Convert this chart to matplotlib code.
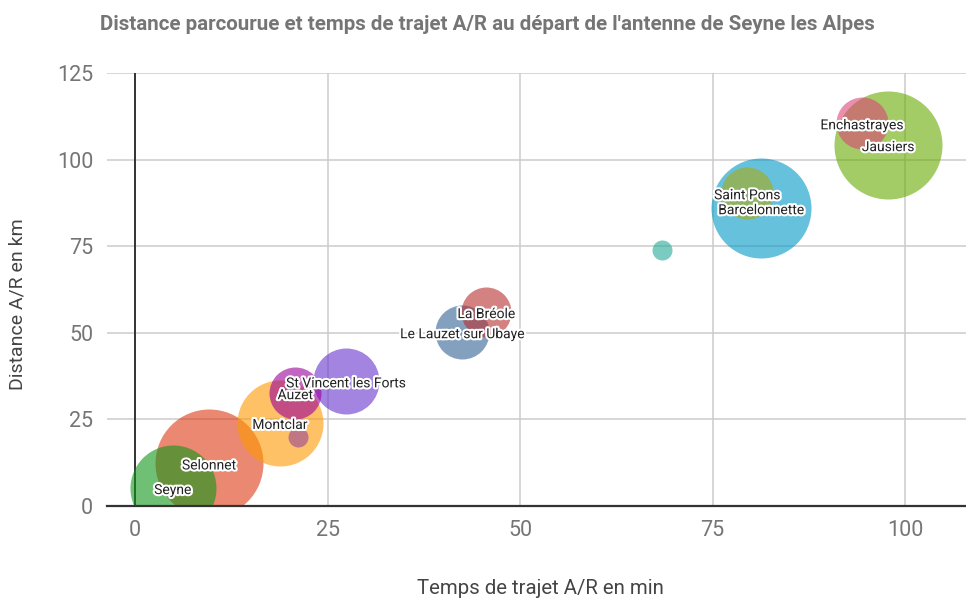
import matplotlib
matplotlib.use("Agg")
import matplotlib.pyplot as plt
import matplotlib.patheffects as pe

plt.rcParams['font.family'] = ['Roboto', 'DejaVu Sans']

# Données
communes = ["Seyne", "Selonnet", "Montclar", "", "Auzet", "St Vincent les Forts",
            "Le Lauzet sur Ubaye", "La Bréole", "", "Barcelonnette", "Saint Pons",
            "Enchastrayes", "Jausiers"]
temps = [4.9, 9.6, 18.8, 21.2, 20.8, 27.4, 42.5, 45.6, 68.4, 81.3, 79.5, 94.4, 97.8]
distance = [5.2, 12.3, 24.0, 19.9, 32.6, 36.0, 50.2, 56.0, 74.0, 86.0, 90.3, 110.5, 104.2]
taille = [43, 54, 43, 10, 26, 33, 27, 25, 10, 50, 26, 26, 54]
couleurs = ["#109618", "#dc3912", "#ff9900", "#994499", "#990099", "#6633cc",
            "#316395", "#b82e2e", "#22aa99", "#0099c6", "#aaaa11", "#dd4477", "#66aa00"]

titre = "Distance parcourue et temps de trajet A/R au départ de l'antenne de Seyne les Alpes"
x_ticks = [0, 25, 50, 75, 100]
y_ticks = [0, 25, 50, 75, 100, 125]

# taille -> rayon en pixels (échelle linéaire façon Google Charts)
r_min, r_max = 10, 54
t_min, t_max = min(taille), max(taille)
def rayon(v):
    return r_min + (v - t_min) / (t_max - t_min) * (r_max - r_min)

fig = plt.figure(figsize=(9.66, 5.99), dpi=100)
ax = fig.add_axes([107 / 966, 93 / 599, 859 / 966, 433 / 599])

for s in ax.spines.values():
    s.set_visible(False)
ax.set_xlim(-3.64, 107.9)
ax.set_ylim(0, 125)
ax.set_xticks(x_ticks)
ax.set_yticks(y_ticks)
ax.grid(True, color="#cccccc", linewidth=1.1)
ax.set_axisbelow(True)
ax.tick_params(length=0, labelsize=15.5, colors="#757575", pad=10)
ax.axhline(0, color="#333333", linewidth=1.6, zorder=10, clip_on=False)
ax.axvline(0, color="#333333", linewidth=1.4, zorder=1)

# les plus grosses bulles d'abord
ordre = sorted(range(len(communes)), key=lambda i: -taille[i])
for k, i in enumerate(ordre):
    d = 2 * rayon(taille[i]) * 0.72
    ax.scatter(temps[i], distance[i], s=d ** 2, color=couleurs[i], alpha=0.6,
               linewidths=0, zorder=2 + k * 0.01)

for i in range(len(communes)):
    if communes[i]:
        ax.annotate(communes[i], (temps[i], distance[i]), xytext=(0, -1.5),
                    textcoords="offset points", ha="center", va="center",
                    fontsize=10, color="#222222", zorder=5,
                    path_effects=[pe.withStroke(linewidth=3, foreground="white")])

fig.text(100 / 966, 1 - 25 / 599, titre, ha="left", va="center",
         fontsize=14.8, fontweight="bold", color="#757575")
fig.text(18 / 966, 1 - 304 / 599, "Distance A/R en km", rotation=90, ha="center",
         va="center", fontsize=14, color="#444444")
fig.text(540 / 966, 1 - 588 / 599, "Temps de trajet A/R en min", ha="center", va="center",
         fontsize=14.7, color="#444444")

fig.savefig("out.png", dpi=100)
